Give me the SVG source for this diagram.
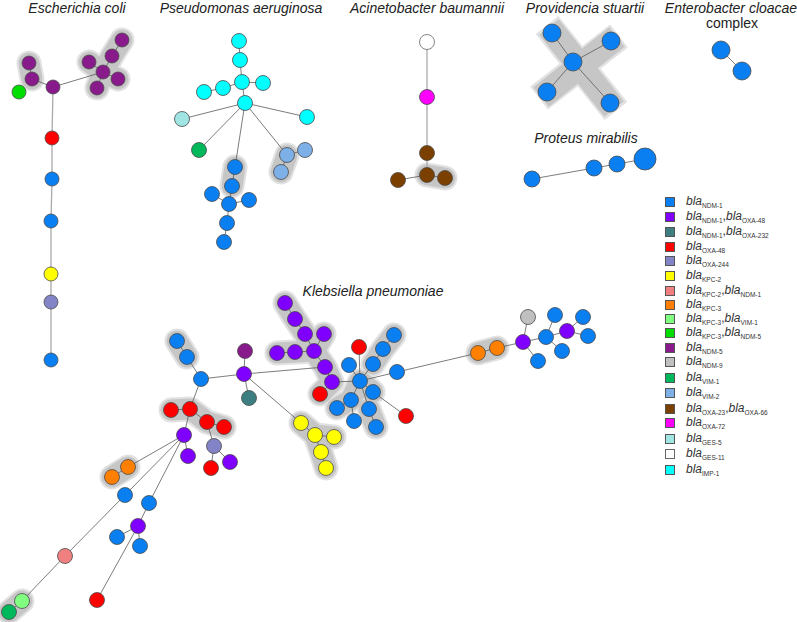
<svg xmlns="http://www.w3.org/2000/svg" width="797" height="622" viewBox="0 0 797 622">
<style>
.t{font-family:"Liberation Sans",Arial,sans-serif;font-style:italic;font-size:14px;fill:#222;text-anchor:middle}
.lg{font-family:"Liberation Sans",Arial,sans-serif;font-size:12px;fill:#333}
.lg .b{font-style:italic}
.lg .s{font-size:6.5px;font-style:normal}
.e{stroke:#5a5a5a;stroke-width:0.8;fill:none}
.ev{stroke:#aaa;stroke-width:1.3;fill:none}
.h1{stroke:#e2e2e2;stroke-width:25;stroke-linecap:round;stroke-linejoin:round;fill:none}
.h2{stroke:#c6c6c6;stroke-width:21;stroke-linecap:round;stroke-linejoin:round;fill:none}
.hp1{stroke:#e2e2e2;stroke-width:29;stroke-linecap:butt;fill:none}
.hp2{stroke:#c6c6c6;stroke-width:25;stroke-linecap:butt;fill:none}
circle{stroke:#4a4a4a;stroke-width:0.8}
.ndm1{fill:#0a7ff2}.no48{fill:#7f00ff}.no232{fill:#3d7f80}.o48{fill:#ff0000}.o244{fill:#8383c8}
.k2{fill:#ffff00}.k2n1{fill:#f08080}.k3{fill:#ff8000}.k3v1{fill:#80ff80}.k3n5{fill:#00dd00}
.n5{fill:#881a8c}.n9{fill:#bfbfbf}.v1{fill:#00b85c}.v2{fill:#7eb0e8}.o23{fill:#7b3f00}
.o72{fill:#ff00ff}.g5{fill:#a0e4e4}.g11{fill:#ffffff;stroke:#666}.imp{fill:#00ffff}
</style>

<g id="titles">
<text class="t" x="77" y="13">Escherichia coli</text>
<text class="t" x="241" y="13">Pseudomonas aeruginosa</text>
<text class="t" x="427" y="13">Acinetobacter baumannii</text>
<text class="t" x="585" y="13">Providencia stuartii</text>
<text class="t" x="731" y="13">Enterobacter cloacae</text>
<text class="t" x="732" y="28" style="font-style:normal">complex</text>
<text class="t" x="586" y="143">Proteus mirabilis</text>
<text class="t" x="373" y="296">Klebsiella pneumoniae</text>
</g>

<g id="highlights">
<g class="h1">
<polyline points="29,63 32,79"/>
<polyline points="122,40 112,56 103,72 97,88"/>
<polyline points="89,62 103,72 118,79"/>
<polyline points="235,167 232,186"/>
<polyline points="287,155 281,172"/>
<polyline points="427,175 445,178"/>
<polyline points="177,341 187,357"/>
<polyline points="171,410 190,409 207,422 224,427"/>
<polyline points="128,467 112,477"/>
<polyline points="22,601 9,612"/>
<polyline points="285,303 295,319 305,334 314,351 325,367 332,382 320,394"/>
<polyline points="277,353 295,352 314,351 324,334"/>
<polyline points="394,335 383,349 373,364"/>
<polyline points="337,408 351,400 360,381 373,392"/>
<polyline points="369,409 376,427"/>
<polyline points="301,423 315,435 334,437"/>
<polyline points="315,435 321,452 326,468"/>
<polyline points="478,353 497,348"/>
</g>
<g class="h2">
<polyline points="29,63 32,79"/>
<polyline points="122,40 112,56 103,72 97,88"/>
<polyline points="89,62 103,72 118,79"/>
<polyline points="235,167 232,186"/>
<polyline points="287,155 281,172"/>
<polyline points="427,175 445,178"/>
<polyline points="177,341 187,357"/>
<polyline points="171,410 190,409 207,422 224,427"/>
<polyline points="128,467 112,477"/>
<polyline points="22,601 9,612"/>
<polyline points="285,303 295,319 305,334 314,351 325,367 332,382 320,394"/>
<polyline points="277,353 295,352 314,351 324,334"/>
<polyline points="394,335 383,349 373,364"/>
<polyline points="337,408 351,400 360,381 373,392"/>
<polyline points="369,409 376,427"/>
<polyline points="301,423 315,435 334,437"/>
<polyline points="315,435 321,452 326,468"/>
<polyline points="478,353 497,348"/>
</g>
<line class="hp1" x1="547" y1="25" x2="616" y2="111"/>
<line class="hp1" x1="539" y1="98" x2="619" y2="36"/>
<line class="hp2" x1="549" y1="27" x2="614" y2="109"/>
<line class="hp2" x1="541" y1="97" x2="617" y2="37"/>
</g>

<g id="connectors">
<line class="e" x1="29" y1="63" x2="32" y2="79"/>
<line class="e" x1="32" y1="79" x2="53" y2="87"/>
<line class="e" x1="53" y1="87" x2="103" y2="72"/>
<line class="e" x1="122" y1="40" x2="112" y2="56"/>
<line class="e" x1="112" y1="56" x2="103" y2="72"/>
<line class="e" x1="89" y1="62" x2="103" y2="72"/>
<line class="e" x1="103" y1="72" x2="118" y2="79"/>
<line class="e" x1="103" y1="72" x2="97" y2="88"/>
<polyline class="ev" points="53,87 52,138 52,179 51,221 51,274 51,302 51,360"/>

<line class="e" x1="239" y1="41" x2="240" y2="60"/>
<line class="e" x1="240" y1="60" x2="242" y2="82"/>
<line class="e" x1="242" y1="82" x2="223" y2="88"/>
<line class="e" x1="223" y1="88" x2="204" y2="92"/>
<line class="e" x1="242" y1="82" x2="263" y2="83"/>
<line class="e" x1="242" y1="82" x2="245" y2="103"/>
<line class="e" x1="245" y1="103" x2="182" y2="119"/>
<line class="e" x1="245" y1="103" x2="307" y2="117"/>
<line class="e" x1="245" y1="103" x2="199" y2="150"/>
<line class="e" x1="245" y1="103" x2="235" y2="167"/>
<line class="e" x1="245" y1="103" x2="287" y2="155"/>
<line class="e" x1="287" y1="155" x2="305" y2="150"/>
<line class="e" x1="287" y1="155" x2="281" y2="172"/>
<line class="e" x1="235" y1="167" x2="232" y2="186"/>
<line class="e" x1="232" y1="186" x2="229" y2="204"/>
<line class="e" x1="212" y1="194" x2="229" y2="204"/>
<line class="e" x1="229" y1="204" x2="249" y2="200"/>
<line class="e" x1="229" y1="204" x2="227" y2="223"/>
<line class="e" x1="227" y1="223" x2="224" y2="242"/>

<polyline class="ev" points="427,42 427,97 427,153 427,175"/>
<line class="e" x1="427" y1="175" x2="445" y2="178"/>
<line class="e" x1="427" y1="175" x2="398" y2="180"/>

<line class="e" x1="573" y1="62" x2="552" y2="33"/>
<line class="e" x1="573" y1="62" x2="611" y2="41"/>
<line class="e" x1="573" y1="62" x2="547" y2="92"/>
<line class="e" x1="573" y1="62" x2="610" y2="103"/>
<line class="e" x1="721" y1="50" x2="742" y2="71"/>
<line class="e" x1="532" y1="179" x2="594" y2="168"/>
<line class="e" x1="594" y1="168" x2="617" y2="164"/>
<line class="e" x1="617" y1="164" x2="645" y2="159"/>

<line class="e" x1="177" y1="341" x2="187" y2="357"/>
<line class="e" x1="187" y1="357" x2="201" y2="379"/>
<line class="e" x1="201" y1="379" x2="244" y2="374"/>
<line class="e" x1="201" y1="379" x2="190" y2="409"/>
<line class="e" x1="245" y1="351" x2="244" y2="374"/>
<line class="e" x1="244" y1="374" x2="249" y2="398"/>
<line class="e" x1="244" y1="374" x2="325" y2="367"/>
<line class="e" x1="244" y1="374" x2="301" y2="423"/>
<line class="e" x1="171" y1="410" x2="190" y2="409"/>
<line class="e" x1="190" y1="409" x2="207" y2="422"/>
<line class="e" x1="207" y1="422" x2="224" y2="427"/>
<line class="e" x1="190" y1="409" x2="184" y2="435"/>
<line class="e" x1="207" y1="422" x2="214" y2="446"/>
<line class="e" x1="214" y1="446" x2="211" y2="468"/>
<line class="e" x1="214" y1="446" x2="230" y2="462"/>
<line class="e" x1="184" y1="435" x2="188" y2="456"/>
<line class="e" x1="184" y1="435" x2="128" y2="467"/>
<line class="e" x1="128" y1="467" x2="112" y2="477"/>
<line class="e" x1="184" y1="435" x2="125" y2="495"/>
<line class="e" x1="125" y1="495" x2="65" y2="556"/>
<line class="e" x1="65" y1="556" x2="22" y2="601"/>
<line class="e" x1="22" y1="601" x2="9" y2="612"/>
<line class="e" x1="184" y1="435" x2="149" y2="503"/>
<line class="e" x1="149" y1="503" x2="138" y2="526"/>
<line class="e" x1="138" y1="526" x2="117" y2="537"/>
<line class="e" x1="138" y1="526" x2="140" y2="546"/>
<line class="e" x1="138" y1="526" x2="97" y2="600"/>

<line class="e" x1="285" y1="303" x2="295" y2="319"/>
<line class="e" x1="295" y1="319" x2="305" y2="334"/>
<line class="e" x1="305" y1="334" x2="314" y2="351"/>
<line class="e" x1="324" y1="334" x2="314" y2="351"/>
<line class="e" x1="277" y1="353" x2="295" y2="352"/>
<line class="e" x1="295" y1="352" x2="314" y2="351"/>
<line class="e" x1="314" y1="351" x2="325" y2="367"/>
<line class="e" x1="325" y1="367" x2="332" y2="382"/>
<line class="e" x1="332" y1="382" x2="320" y2="394"/>
<line class="e" x1="332" y1="382" x2="360" y2="381"/>

<line class="e" x1="359" y1="347" x2="360" y2="381"/>
<line class="e" x1="360" y1="381" x2="349" y2="365"/>
<line class="e" x1="360" y1="381" x2="373" y2="364"/>
<line class="e" x1="373" y1="364" x2="383" y2="349"/>
<line class="e" x1="383" y1="349" x2="394" y2="335"/>
<line class="e" x1="360" y1="381" x2="397" y2="372"/>
<line class="e" x1="360" y1="381" x2="373" y2="392"/>
<line class="e" x1="373" y1="392" x2="406" y2="416"/>
<line class="e" x1="360" y1="381" x2="351" y2="400"/>
<line class="e" x1="351" y1="400" x2="337" y2="408"/>
<line class="e" x1="351" y1="400" x2="354" y2="421"/>
<line class="e" x1="360" y1="381" x2="369" y2="409"/>
<line class="e" x1="369" y1="409" x2="376" y2="427"/>

<line class="e" x1="301" y1="423" x2="315" y2="435"/>
<line class="e" x1="315" y1="435" x2="334" y2="437"/>
<line class="e" x1="315" y1="435" x2="321" y2="452"/>
<line class="e" x1="321" y1="452" x2="326" y2="468"/>

<line class="e" x1="397" y1="372" x2="478" y2="353"/>
<line class="e" x1="478" y1="353" x2="497" y2="348"/>
<line class="e" x1="497" y1="348" x2="523" y2="342"/>
<line class="e" x1="523" y1="342" x2="528" y2="317"/>
<line class="e" x1="523" y1="342" x2="538" y2="361"/>
<line class="e" x1="523" y1="342" x2="546" y2="337"/>
<line class="e" x1="546" y1="337" x2="555" y2="315"/>
<line class="e" x1="546" y1="337" x2="567" y2="331"/>
<line class="e" x1="546" y1="337" x2="562" y2="351"/>
<line class="e" x1="567" y1="331" x2="583" y2="317"/>
<line class="e" x1="567" y1="331" x2="588" y2="336"/>
</g>

<g id="ecoli">
<circle id="ec1" class="n5" cx="29" cy="63" r="7"/>
<circle id="ec2" class="n5" cx="32" cy="79" r="7"/>
<circle id="ec3" class="n5" cx="53" cy="87" r="7"/>
<circle id="ec4" class="k3n5" cx="19" cy="92" r="7"/>
<circle id="ec5" class="n5" cx="122" cy="40" r="7"/>
<circle id="ec6" class="n5" cx="112" cy="56" r="7"/>
<circle id="ec7" class="n5" cx="89" cy="62" r="7"/>
<circle id="ec8" class="n5" cx="103" cy="72" r="7"/>
<circle id="ec9" class="n5" cx="118" cy="79" r="7"/>
<circle id="ec10" class="n5" cx="97" cy="88" r="7"/>
<circle id="ec11" class="o48" cx="52" cy="138" r="7"/>
<circle id="ec12" class="ndm1" cx="52" cy="179" r="7"/>
<circle id="ec13" class="ndm1" cx="51" cy="221" r="7"/>
<circle id="ec14" class="k2" cx="51" cy="274" r="7"/>
<circle id="ec15" class="o244" cx="51" cy="302" r="7"/>
<circle id="ec16" class="ndm1" cx="51" cy="360" r="7"/>
</g>

<g id="pseudomonas">
<circle id="ps1" class="imp" cx="239" cy="41" r="7.5"/>
<circle id="ps2" class="imp" cx="240" cy="60" r="7.5"/>
<circle id="ps3" class="imp" cx="242" cy="82" r="7.5"/>
<circle id="ps4" class="imp" cx="223" cy="88" r="7.5"/>
<circle id="ps5" class="imp" cx="204" cy="92" r="7.5"/>
<circle id="ps6" class="imp" cx="263" cy="83" r="7.5"/>
<circle id="ps7" class="imp" cx="245" cy="103" r="7.5"/>
<circle id="ps8" class="g5" cx="182" cy="119" r="7.5"/>
<circle id="ps9" class="imp" cx="307" cy="117" r="7.5"/>
<circle id="ps10" class="v1" cx="199" cy="150" r="7.5"/>
<circle id="ps11" class="v2" cx="287" cy="155" r="7.5"/>
<circle id="ps12" class="v2" cx="305" cy="150" r="7.5"/>
<circle id="ps13" class="v2" cx="281" cy="172" r="7.5"/>
<circle id="ps14" class="ndm1" cx="235" cy="167" r="7.5"/>
<circle id="ps15" class="ndm1" cx="232" cy="186" r="7.5"/>
<circle id="ps16" class="ndm1" cx="212" cy="194" r="7.5"/>
<circle id="ps17" class="ndm1" cx="229" cy="204" r="7.5"/>
<circle id="ps18" class="ndm1" cx="249" cy="200" r="7.5"/>
<circle id="ps19" class="ndm1" cx="227" cy="223" r="7.5"/>
<circle id="ps20" class="ndm1" cx="224" cy="242" r="7.5"/>
</g>

<g id="acinetobacter">
<circle id="ac1" class="g11" cx="427" cy="42" r="7.5"/>
<circle id="ac2" class="o72" cx="427" cy="97" r="7.5"/>
<circle id="ac3" class="o23" cx="427" cy="153" r="7.5"/>
<circle id="ac4" class="o23" cx="427" cy="175" r="7.5"/>
<circle id="ac5" class="o23" cx="445" cy="178" r="7.5"/>
<circle id="ac6" class="o23" cx="398" cy="180" r="7.5"/>
</g>

<g id="providencia">
<circle id="pv1" class="ndm1" cx="552" cy="33" r="9"/>
<circle id="pv2" class="ndm1" cx="611" cy="41" r="9"/>
<circle id="pv3" class="ndm1" cx="573" cy="62" r="9"/>
<circle id="pv4" class="ndm1" cx="547" cy="92" r="9"/>
<circle id="pv5" class="ndm1" cx="610" cy="103" r="9"/>
</g>

<g id="enterobacter">
<circle id="en1" class="ndm1" cx="721" cy="50" r="9"/>
<circle id="en2" class="ndm1" cx="742" cy="71" r="9"/>
</g>

<g id="proteus">
<circle id="pr1" class="ndm1" cx="532" cy="179" r="8"/>
<circle id="pr2" class="ndm1" cx="594" cy="168" r="8"/>
<circle id="pr3" class="ndm1" cx="617" cy="164" r="8"/>
<circle id="pr4" class="ndm1" cx="645" cy="159" r="11"/>
</g>

<g id="klebsiella">
<circle class="ndm1" cx="177" cy="341" r="7.5"/>
<circle class="ndm1" cx="187" cy="357" r="7.5"/>
<circle class="ndm1" cx="201" cy="379" r="7.5"/>
<circle class="n5" cx="245" cy="351" r="7.5"/>
<circle class="no48" cx="244" cy="374" r="7.5"/>
<circle class="no232" cx="249" cy="398" r="7.5"/>
<circle class="o48" cx="171" cy="410" r="7.5"/>
<circle class="o48" cx="190" cy="409" r="7.5"/>
<circle class="o48" cx="207" cy="422" r="7.5"/>
<circle class="o48" cx="224" cy="427" r="7.5"/>
<circle class="no48" cx="184" cy="435" r="7.5"/>
<circle class="o244" cx="214" cy="446" r="7.5"/>
<circle class="no48" cx="188" cy="456" r="7.5"/>
<circle class="o48" cx="211" cy="468" r="7.5"/>
<circle class="no48" cx="230" cy="462" r="7.5"/>
<circle class="k3" cx="128" cy="467" r="7.5"/>
<circle class="k3" cx="112" cy="477" r="7.5"/>
<circle class="ndm1" cx="125" cy="495" r="7.5"/>
<circle class="ndm1" cx="149" cy="503" r="7.5"/>
<circle class="no48" cx="138" cy="526" r="7.5"/>
<circle class="ndm1" cx="117" cy="537" r="7.5"/>
<circle class="ndm1" cx="140" cy="546" r="7.5"/>
<circle class="k2n1" cx="65" cy="556" r="7.5"/>
<circle class="o48" cx="97" cy="600" r="7.5"/>
<circle class="k3v1" cx="22" cy="601" r="7.5"/>
<circle class="v1" cx="9" cy="612" r="7.5"/>
<circle class="no48" cx="285" cy="303" r="7.5"/>
<circle class="no48" cx="295" cy="319" r="7.5"/>
<circle class="no48" cx="305" cy="334" r="7.5"/>
<circle class="no48" cx="324" cy="334" r="7.5"/>
<circle class="no48" cx="277" cy="353" r="7.5"/>
<circle class="no48" cx="295" cy="352" r="7.5"/>
<circle class="no48" cx="314" cy="351" r="7.5"/>
<circle class="no48" cx="325" cy="367" r="7.5"/>
<circle class="no48" cx="332" cy="382" r="7.5"/>
<circle class="o48" cx="320" cy="394" r="7.5"/>
<circle class="o48" cx="359" cy="347" r="7.5"/>
<circle class="ndm1" cx="360" cy="381" r="7.5"/>
<circle class="ndm1" cx="349" cy="365" r="7.5"/>
<circle class="ndm1" cx="373" cy="364" r="7.5"/>
<circle class="ndm1" cx="383" cy="349" r="7.5"/>
<circle class="ndm1" cx="394" cy="335" r="7.5"/>
<circle class="ndm1" cx="397" cy="372" r="7.5"/>
<circle class="ndm1" cx="373" cy="392" r="7.5"/>
<circle class="ndm1" cx="351" cy="400" r="7.5"/>
<circle class="ndm1" cx="337" cy="408" r="7.5"/>
<circle class="ndm1" cx="354" cy="421" r="7.5"/>
<circle class="ndm1" cx="369" cy="409" r="7.5"/>
<circle class="ndm1" cx="376" cy="427" r="7.5"/>
<circle class="o48" cx="406" cy="416" r="7.5"/>
<circle class="k2" cx="301" cy="423" r="7.5"/>
<circle class="k2" cx="315" cy="435" r="7.5"/>
<circle class="k2" cx="334" cy="437" r="7.5"/>
<circle class="k2" cx="321" cy="452" r="7.5"/>
<circle class="k2" cx="326" cy="468" r="7.5"/>
<circle class="k3" cx="478" cy="353" r="7.5"/>
<circle class="k3" cx="497" cy="348" r="7.5"/>
<circle class="no48" cx="523" cy="342" r="7.5"/>
<circle class="n9" cx="528" cy="317" r="7.5"/>
<circle class="ndm1" cx="538" cy="361" r="7.5"/>
<circle class="ndm1" cx="546" cy="337" r="7.5"/>
<circle class="ndm1" cx="555" cy="315" r="7.5"/>
<circle class="no48" cx="567" cy="331" r="7.5"/>
<circle class="ndm1" cx="562" cy="351" r="7.5"/>
<circle class="ndm1" cx="583" cy="317" r="7.5"/>
<circle class="ndm1" cx="588" cy="336" r="7.5"/>
</g>

<g id="legend">
<g style="stroke:#555;stroke-width:1">
<rect class="ndm1" x="665.5" y="197.5" width="9" height="9"/>
<rect class="no48" x="665.5" y="212.5" width="9" height="9"/>
<rect class="no232" x="665.5" y="227.5" width="9" height="9"/>
<rect class="o48" x="665.5" y="242.5" width="9" height="9"/>
<rect class="o244" x="665.5" y="256.5" width="9" height="9"/>
<rect class="k2" x="665.5" y="271.5" width="9" height="9"/>
<rect class="k2n1" x="665.5" y="286.5" width="9" height="9"/>
<rect class="k3" x="665.5" y="300.5" width="9" height="9"/>
<rect class="k3v1" x="665.5" y="314.5" width="9" height="9"/>
<rect class="k3n5" x="665.5" y="328.5" width="9" height="9"/>
<rect class="n5" x="665.5" y="343.5" width="9" height="9"/>
<rect class="n9" x="665.5" y="357.5" width="9" height="9"/>
<rect class="v1" x="665.5" y="373.5" width="9" height="9"/>
<rect class="v2" x="665.5" y="388.5" width="9" height="9"/>
<rect class="o23" x="665.5" y="404.5" width="9" height="9"/>
<rect class="o72" x="665.5" y="418.5" width="9" height="9"/>
<rect class="g5" x="665.5" y="434.5" width="9" height="9"/>
<rect class="g11" x="665.5" y="449.5" width="9" height="9"/>
<rect class="imp" x="665.5" y="465.5" width="9" height="9"/>
</g>
<text class="lg" x="686" y="205"><tspan class="b">bla</tspan><tspan class="s" dy="3">NDM-1</tspan></text>
<text class="lg" x="686" y="220"><tspan class="b">bla</tspan><tspan class="s" dy="3">NDM-1</tspan><tspan dy="-3">,</tspan><tspan class="b">bla</tspan><tspan class="s" dy="3">OXA-48</tspan></text>
<text class="lg" x="686" y="235"><tspan class="b">bla</tspan><tspan class="s" dy="3">NDM-1</tspan><tspan dy="-3">,</tspan><tspan class="b">bla</tspan><tspan class="s" dy="3">OXA-232</tspan></text>
<text class="lg" x="686" y="250"><tspan class="b">bla</tspan><tspan class="s" dy="3">OXA-48</tspan></text>
<text class="lg" x="686" y="264"><tspan class="b">bla</tspan><tspan class="s" dy="3">OXA-244</tspan></text>
<text class="lg" x="686" y="279"><tspan class="b">bla</tspan><tspan class="s" dy="3">KPC-2</tspan></text>
<text class="lg" x="686" y="294"><tspan class="b">bla</tspan><tspan class="s" dy="3">KPC-2</tspan><tspan dy="-3">,</tspan><tspan class="b">bla</tspan><tspan class="s" dy="3">NDM-1</tspan></text>
<text class="lg" x="686" y="308"><tspan class="b">bla</tspan><tspan class="s" dy="3">KPC-3</tspan></text>
<text class="lg" x="686" y="322"><tspan class="b">bla</tspan><tspan class="s" dy="3">KPC-3</tspan><tspan dy="-3">,</tspan><tspan class="b">bla</tspan><tspan class="s" dy="3">VIM-1</tspan></text>
<text class="lg" x="686" y="336"><tspan class="b">bla</tspan><tspan class="s" dy="3">KPC-3</tspan><tspan dy="-3">,</tspan><tspan class="b">bla</tspan><tspan class="s" dy="3">NDM-5</tspan></text>
<text class="lg" x="686" y="351"><tspan class="b">bla</tspan><tspan class="s" dy="3">NDM-5</tspan></text>
<text class="lg" x="686" y="365"><tspan class="b">bla</tspan><tspan class="s" dy="3">NDM-9</tspan></text>
<text class="lg" x="686" y="381"><tspan class="b">bla</tspan><tspan class="s" dy="3">VIM-1</tspan></text>
<text class="lg" x="686" y="396"><tspan class="b">bla</tspan><tspan class="s" dy="3">VIM-2</tspan></text>
<text class="lg" x="686" y="412"><tspan class="b">bla</tspan><tspan class="s" dy="3">OXA-23</tspan><tspan dy="-3">,</tspan><tspan class="b">bla</tspan><tspan class="s" dy="3">OXA-66</tspan></text>
<text class="lg" x="686" y="426"><tspan class="b">bla</tspan><tspan class="s" dy="3">OXA-72</tspan></text>
<text class="lg" x="686" y="442"><tspan class="b">bla</tspan><tspan class="s" dy="3">GES-5</tspan></text>
<text class="lg" x="686" y="457"><tspan class="b">bla</tspan><tspan class="s" dy="3">GES-11</tspan></text>
<text class="lg" x="686" y="473"><tspan class="b">bla</tspan><tspan class="s" dy="3">IMP-1</tspan></text>
</g>
</svg>
